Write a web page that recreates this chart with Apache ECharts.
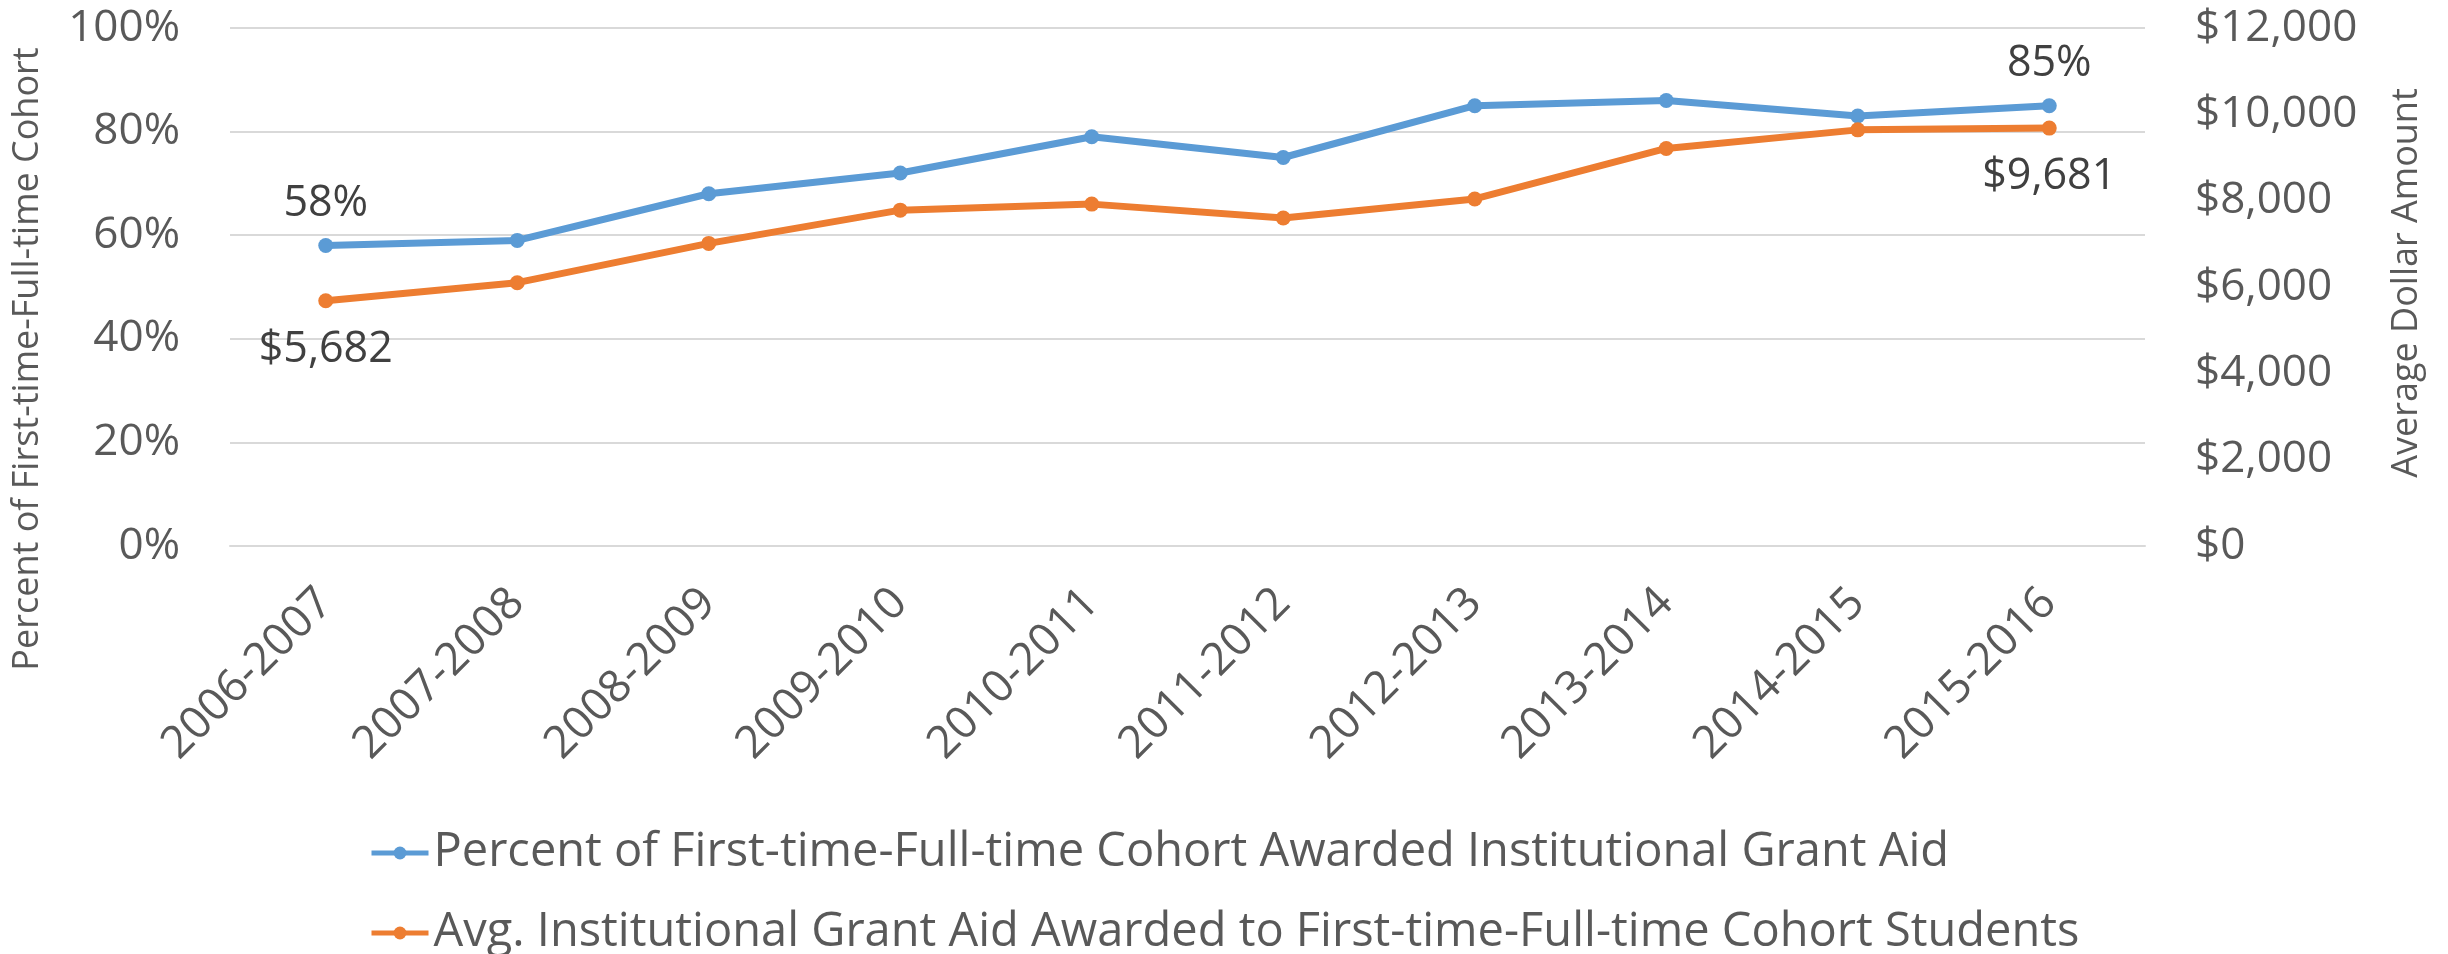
<!DOCTYPE html>
<html>
<head>
<meta charset="utf-8">
<script src="https://cdn.jsdelivr.net/npm/echarts@6/dist/echarts.min.js"></script>
<style>
  html, body { margin: 0; padding: 0; background: #fff; }
  #chart { width: 2448px; height: 954px; }
</style>
</head>
<body>
<div id="chart"></div>
<script>
// data
var years = ["2006-2007", "2007-2008", "2008-2009", "2009-2010", "2010-2011",
  "2011-2012", "2012-2013", "2013-2014", "2014-2015", "2015-2016"];
var pctAwarded = [58, 59, 68, 72, 79, 75, 85, 86, 83, 85];
var avgAid = [5682, 6100, 7010, 7780, 7920, 7600, 8040, 9210, 9640, 9681];
var seriesNames = [
  "Percent of First-time-Full-time Cohort Awarded Institutional Grant Aid",
  "Avg. Institutional Grant Aid Awarded to First-time-Full-time Cohort Students"
];
var leftTitle = "Percent of First-time-Full-time Cohort";
var rightTitle = "Average Dollar Amount";

var FONT = "'Open Sans', sans-serif";
var chart = echarts.init(document.getElementById("chart"));

//only first and last points get a label
function withEndLabels(arr, pos) {
  return arr.map(function (v, i) {
    if (i === 0 || i === arr.length - 1) {
      return { value: v, label: { show: true, position: pos } };
    }
    return v;
  });
}

//one legend per row, stacked like the original
function legendRow(name, top) {
  return {
    left: 364,
    top: top,
    itemWidth: 57,
    itemHeight: 16,
    lineStyle: { width: 5 },
    textStyle: { fontSize: 47, lineHeight: 50, color: "#595959", fontFamily: FONT },
    data: [name]
  };
}

var option = {
  animation: false,
  color: ["#5B9BD5", "#ED7D31"],
  textStyle: { fontFamily: FONT },
  grid: { left: 230, right: 303, top: 28, bottom: 408 },
  legend: [legendRow(seriesNames[0], 823), legendRow(seriesNames[1], 903)],
  graphic: [
    {
      type: "text",
      x: 28,
      y: 359,
      rotation: Math.PI / 2,
      style: {
        text: leftTitle,
        fontSize: 36,
        fontFamily: FONT,
        fill: "#595959",
        align: "center",
        verticalAlign: "middle"
      }
    },
    {
      type: "text",
      x: 2407,
      y: 283,
      rotation: Math.PI / 2,
      style: {
        text: rightTitle,
        fontSize: 36,
        fontFamily: FONT,
        fill: "#595959",
        align: "center",
        verticalAlign: "middle"
      }
    }
  ],
  xAxis: {
    type: "category",
    data: years,
    boundaryGap: true,
    axisLine: { show: true, lineStyle: { color: "#D9D9D9", width: 2 } },
    axisTick: { show: false },
    axisLabel: {
      rotate: 45,
      interval: 0,
      margin: 50,
      fontSize: 45,
      color: "#595959",
      fontFamily: FONT
    }
  },
  yAxis: [
    {
      type: "value",
      min: 0,
      max: 100,
      interval: 20,
      axisLine: { show: false },
      axisTick: { show: false },
      splitLine: { lineStyle: { color: "#D9D9D9", width: 2 } },
      axisLabel: {
        margin: 50,
        fontSize: 44,
        color: "#595959",
        fontFamily: FONT,
        formatter: "{value}%"
      }
    },
    {
      type: "value",
      min: 0,
      max: 12000,
      interval: 2000,
      axisLine: { show: false },
      axisTick: { show: false },
      splitLine: { show: false },
      axisLabel: {
        margin: 50,
        fontSize: 44,
        color: "#595959",
        fontFamily: FONT,
        formatter: function (v) {
          return "$" + v.toLocaleString("en-US");
        }
      }
    }
  ],
  series: [
    {
      name: seriesNames[0],
      type: "line",
      yAxisIndex: 0,
      symbol: "circle",
      symbolSize: 15,
      lineStyle: { width: 7 },
      label: {
        fontSize: 43,
        color: "#404040",
        distance: 13,
        formatter: "{c}%"
      },
      data: withEndLabels(pctAwarded, "top")
    },
    {
      name: seriesNames[1],
      type: "line",
      yAxisIndex: 1,
      symbol: "circle",
      symbolSize: 15,
      lineStyle: { width: 7 },
      label: {
        fontSize: 43,
        color: "#404040",
        distance: 20,
        formatter: function (p) {
          return "$" + p.value.toLocaleString("en-US");
        }
      },
      data: withEndLabels(avgAid, "bottom")
    }
  ]
};
chart.setOption(option);
window.onresize = function () {
  chart.resize();
};
</script>
</body>
</html>
